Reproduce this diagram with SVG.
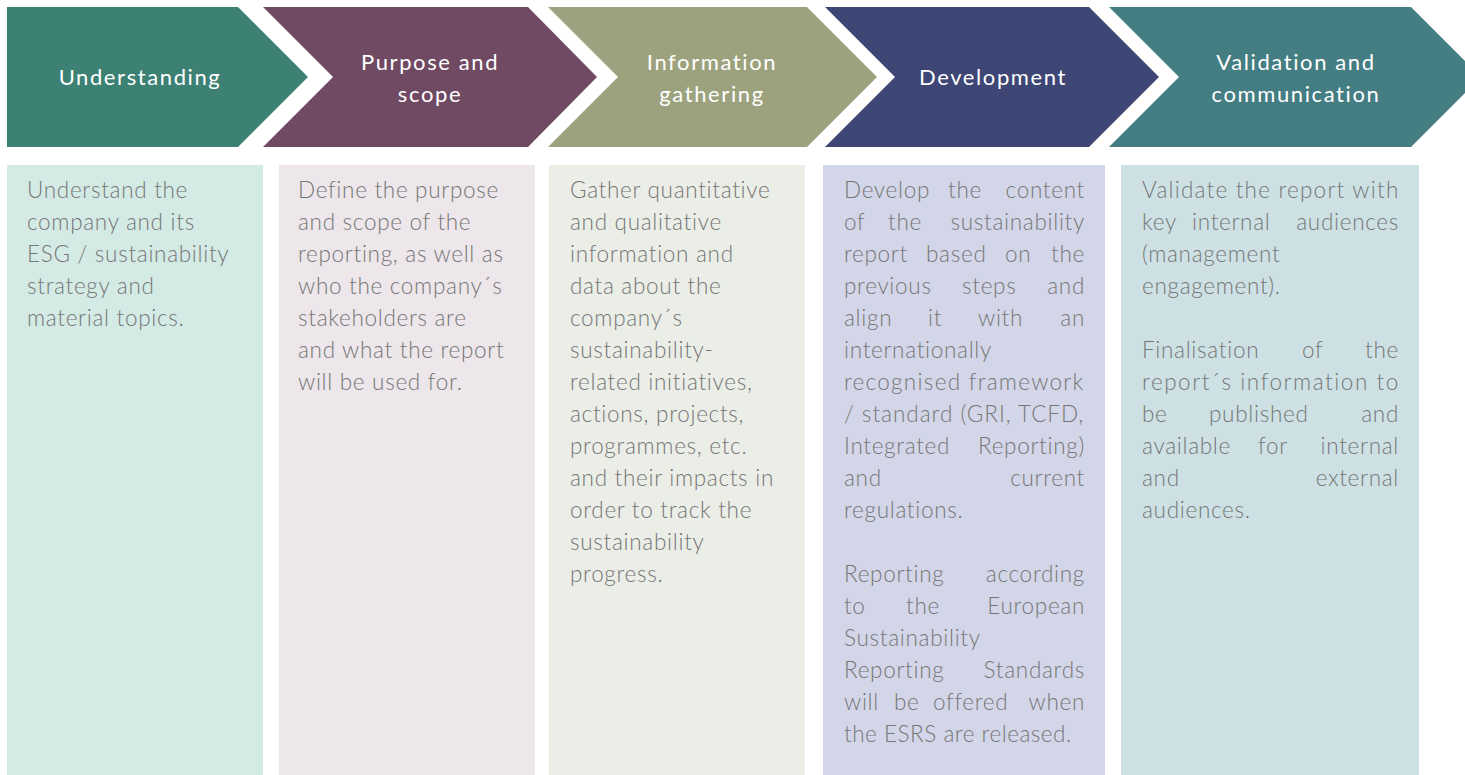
<svg xmlns="http://www.w3.org/2000/svg" width="1465" height="775" viewBox="0 0 1465 775">
<style>
.h{font-family:"Lato","Liberation Sans",sans-serif;font-size:22px;fill:#ffffff;text-anchor:middle;letter-spacing:1.6px}
.b{font-family:"Lato","Liberation Sans",sans-serif;font-weight:300;font-size:22.5px;fill:#767676;letter-spacing:0.7px}
.e{text-anchor:end}
</style>
<rect width="1465" height="775" fill="#ffffff"/>
<g id="step1">
<polygon points="7,7 238,7 308,77 238,147 7,147" fill="#3C8174"/>
<text class="h" x="140" y="85">Understanding</text>
</g>
<g id="step2">
<polygon points="263,7 528,7 597,77 528,147 263,147 333,77" fill="#704A63"/>
<text class="h" x="430" y="70">Purpose and</text>
<text class="h" x="430" y="102">scope</text>
</g>
<g id="step3">
<polygon points="548,7 807,7 877,77 807,147 548,147 618,77" fill="#9DA27E"/>
<text class="h" x="712" y="70">Information</text>
<text class="h" x="712" y="102">gathering</text>
</g>
<g id="step4">
<polygon points="825,7 1089,7 1159,77 1089,147 825,147 895,77" fill="#3D4674"/>
<text class="h" x="993" y="85">Development</text>
</g>
<g id="step5">
<polygon points="1109,7 1411,7 1481,77 1411,147 1109,147 1179,77" fill="#447D82"/>
<text class="h" x="1296" y="70">Validation and</text>
<text class="h" x="1296" y="102">communication</text>
</g>
<g id="box1">
<rect x="7" y="165" width="256" height="610" fill="#D4EAE5"/>
<text class="b" x="27" y="198">Understand  the</text>
<text class="b" x="27" y="230">company and its</text>
<text class="b" x="27" y="262">ESG / sustainability</text>
<text class="b" x="27" y="294">strategy  and</text>
<text class="b" x="27" y="326">material  topics.</text>
</g>
<g id="box2">
<rect x="279" y="165" width="256" height="610" fill="#EDE6EA"/>
<text class="b" x="298" y="198">Define the purpose</text>
<text class="b" x="298" y="230">and scope of the</text>
<text class="b" x="298" y="262">reporting,  as well as</text>
<text class="b" x="298" y="294">who the company´s</text>
<text class="b" x="298" y="326">stakeholders  are</text>
<text class="b" x="298" y="358">and what the report</text>
<text class="b" x="298" y="390">will be used for.</text>
</g>
<g id="box3">
<rect x="549" y="165" width="256" height="610" fill="#EBEDE7"/>
<text class="b" x="570" y="198">Gather quantitative</text>
<text class="b" x="570" y="230">and qualitative</text>
<text class="b" x="570" y="262">information and</text>
<text class="b" x="570" y="294">data about the</text>
<text class="b" x="570" y="326">company´s</text>
<text class="b" x="570" y="358">sustainability-</text>
<text class="b" x="570" y="390">related  initiatives,</text>
<text class="b" x="570" y="422">actions, projects,</text>
<text class="b" x="570" y="454">programmes,  etc.</text>
<text class="b" x="570" y="486">and their impacts in</text>
<text class="b" x="570" y="518">order to track the</text>
<text class="b" x="570" y="550">sustainability</text>
<text class="b" x="570" y="582">progress.</text>
</g>
<g id="box4">
<rect x="823" y="165" width="282" height="610" fill="#D3D6E8"/>
<text class="b" x="844" y="198">Develop</text><text class="b" x="948" y="198">the</text><text class="b e" x="1085" y="198">content</text>
<text class="b" x="844" y="230">of</text><text class="b" x="888" y="230">the</text><text class="b e" x="1085" y="230">sustainability</text>
<text class="b" x="844" y="262">report</text><text class="b" x="926" y="262">based</text><text class="b" x="1005" y="262">on</text><text class="b e" x="1085" y="262">the</text>
<text class="b" x="844" y="294">previous</text><text class="b" x="962" y="294">steps</text><text class="b e" x="1085" y="294">and</text>
<text class="b" x="844" y="326">align</text><text class="b" x="928" y="326">it</text><text class="b" x="978" y="326">with</text><text class="b e" x="1085" y="326">an</text>
<text class="b" x="844" y="358">internationally</text>
<text class="b" x="844" y="390" textLength="240">recognised framework</text>
<text class="b" x="844" y="422" textLength="240">/ standard (GRI, TCFD,</text>
<text class="b" x="844" y="454">Integrated</text><text class="b e" x="1085" y="454">Reporting)</text>
<text class="b" x="844" y="486">and</text><text class="b e" x="1085" y="486">current</text>
<text class="b" x="844" y="518">regulations.</text>
<text class="b" x="844" y="582">Reporting</text><text class="b e" x="1085" y="582">according</text>
<text class="b" x="844" y="614">to</text><text class="b" x="906" y="614">the</text><text class="b e" x="1085" y="614">European</text>
<text class="b" x="844" y="646">Sustainability</text>
<text class="b" x="844" y="678">Reporting</text><text class="b e" x="1085" y="678">Standards</text>
<text class="b" x="844" y="710">will</text><text class="b" x="894" y="710">be</text><text class="b" x="933" y="710">offered</text><text class="b e" x="1085" y="710">when</text>
<text class="b" x="844" y="742" textLength="228">the ESRS are released.</text>
</g>
<g id="box5">
<rect x="1121" y="165" width="298" height="610" fill="#CDE1E4"/>
<text class="b" x="1142" y="198" textLength="257">Validate the report with</text>
<text class="b" x="1142" y="230">key</text><text class="b" x="1192" y="230">internal</text><text class="b e" x="1399" y="230">audiences</text>
<text class="b" x="1142" y="262">(management</text>
<text class="b" x="1142" y="294">engagement).</text>
<text class="b" x="1142" y="358">Finalisation</text><text class="b" x="1302" y="358">of</text><text class="b e" x="1399" y="358">the</text>
<text class="b" x="1142" y="390" textLength="257">report´s information to</text>
<text class="b" x="1142" y="422">be</text><text class="b" x="1209" y="422">published</text><text class="b e" x="1399" y="422">and</text>
<text class="b" x="1142" y="454">available</text><text class="b" x="1258" y="454">for</text><text class="b e" x="1399" y="454">internal</text>
<text class="b" x="1142" y="486">and</text><text class="b e" x="1399" y="486">external</text>
<text class="b" x="1142" y="518">audiences.</text>
</g>
</svg>
